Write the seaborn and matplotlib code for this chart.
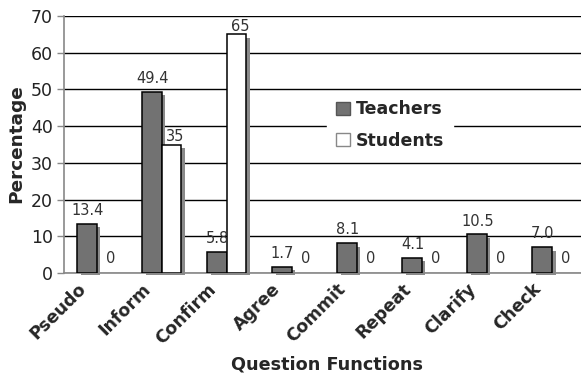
import matplotlib
matplotlib.use("Agg")
import matplotlib.pyplot as plt
import matplotlib.transforms as mtransforms
import seaborn as sns
import pandas as pd
import numpy as np
from matplotlib.patches import Rectangle

categories = ["Pseudo", "Inform", "Confirm", "Agree", "Commit", "Repeat", "Clarify", "Check"]
teachers = [13.4, 49.4, 5.8, 1.7, 8.1, 4.1, 10.5, 7.0]
students = [0, 35, 65, 0, 0, 0, 0, 0]
teacher_labels = ["13.4", "49.4", "5.8", "1.7", "8.1", "4.1", "10.5", "7.0"]
student_labels = ["0", "35", "65", "0", "0", "0", "0", "0"]

df = pd.DataFrame({
    "Function": categories * 2,
    "Percentage": teachers + students,
    "Group": ["Teachers"] * len(categories) + ["Students"] * len(categories),
})

sns.set_style("white")
plt.rcParams['font.family'] = ['DejaVu Sans']

fig = plt.figure(figsize=(5.81, 3.75), dpi=100)
ax = fig.add_axes([64/581, 1 - 273/375, 1 - 64/581 + 0.006, (273 - 16)/375])

sns.barplot(data=df, x="Function", y="Percentage", hue="Group",
            palette={"Teachers": "#727272", "Students": "#ffffff"},
            width=0.6, edgecolor="black", linewidth=1.1, ax=ax, zorder=3,
            legend=False)

ax.set_xlim(-0.5, 7.5)
ax.set_ylim(0, 70)
ax.set_yticks(np.arange(0, 71, 10))
ax.yaxis.grid(True, color="black", linewidth=1.0, zorder=0)
ax.set_axisbelow(True)

# hide zero-height bars, add shadows to the rest
for p in list(ax.patches):
    if not isinstance(p, Rectangle):
        continue
    if p.get_height() <= 0:
        p.set_visible(False)
        continue
    sh = Rectangle((p.get_x() + 0.055, -0.6), p.get_width(), p.get_height() - 0.3,
                   facecolor="#8a8a8a", edgecolor="none", zorder=2, clip_on=False)
    ax.add_patch(sh)

# value labels
xs = np.arange(len(categories))
for i in xs:
    ax.text(i - 0.15 + 0.01, teachers[i] + 1.6, teacher_labels[i], ha="center", va="bottom",
            fontsize=10.5, color="#333333", zorder=5)
    ax.text(i + 0.15 + 0.06, students[i] + (0.2 if students[i] > 0 else 2.0), student_labels[i],
            ha="center", va="bottom", fontsize=10.5, color="#333333", zorder=5)

for s in ["top", "right"]:
    ax.spines[s].set_visible(False)
for s in ["left", "bottom"]:
    ax.spines[s].set_color("#888888")
    ax.spines[s].set_linewidth(1.2)

ax.set_xticks(xs)
ax.set_xticklabels(categories, rotation=45, ha="right", rotation_mode="anchor",
                   fontsize=12.5, fontweight="bold")
ax.tick_params(axis="x", length=0, pad=5)
offset = mtransforms.ScaledTranslation(-20/100, 0, fig.dpi_scale_trans)
for lab in ax.get_xticklabels():
    lab.set_transform(lab.get_transform() + offset)
ax.set_xticks(np.arange(-0.5, 8, 1), minor=True)
ax.tick_params(axis="x", which="minor", length=5, color="#888888", width=1)
ax.tick_params(axis="y", length=5, color="#888888", width=1, labelsize=12.5,
               labelcolor="#222222", left=True, pad=3)

ax.set_xlabel("Question Functions", fontsize=12.7, fontweight="bold")
ax.xaxis.set_label_coords((325 - 64) / 517, -(364 - 273) / 257)
ax.xaxis.label.set_va("center")
ax.set_ylabel("Percentage", fontsize=13.3, fontweight="bold")
ax.yaxis.set_label_coords(-(64 - 17) / 517, 1 - (144 - 16) / 257)
ax.yaxis.label.set_va("center")

handles = [Rectangle((0, 0), 1, 1, facecolor="#727272", edgecolor="#555555"),
           Rectangle((0, 0), 1, 1, facecolor="white", edgecolor="#888888")]
leg = ax.legend(handles, ["Teachers", "Students"], loc="center",
                bbox_to_anchor=((388 - 64) / 517, 1 - (125 - 16) / 257),
                frameon=True, fancybox=False, framealpha=1, edgecolor="white",
                prop={"size": 12.5, "weight": "bold"}, handlelength=0.8, handleheight=0.8,
                handletextpad=0.35, labelspacing=0.75, borderpad=0.5, borderaxespad=0)
leg.set_zorder(6)

fig.savefig("out.png", dpi=100)
